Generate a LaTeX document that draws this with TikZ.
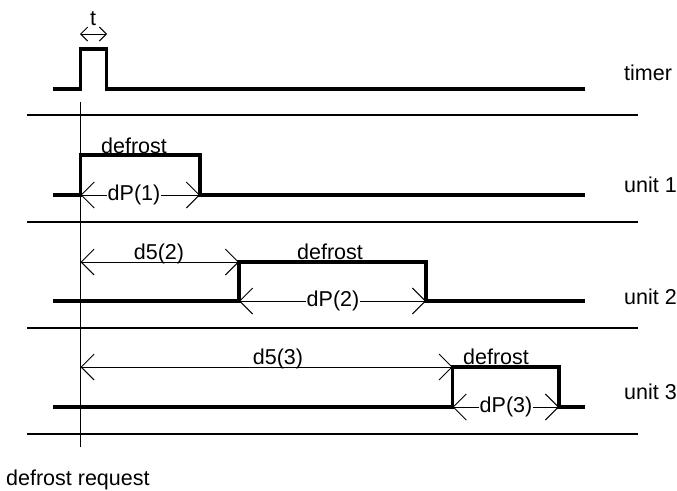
\documentclass[tikz,border=0pt]{standalone}
\usepackage{fontspec}
\setmainfont{Liberation Sans}
\usetikzlibrary{arrows.meta}
\begin{document}
\begin{tikzpicture}[x=1pt,y=-1pt,
  sig/.style={line width=3.5pt, line join=miter},
  sepline/.style={line width=1.3pt},
  dimline/.style={line width=0.9pt, {Straight Barb[length=13pt 0,width=26pt 0]}-{Straight Barb[length=13pt 0,width=26pt 0]}},
  smalldim/.style={line width=1pt, {Straight Barb[length=7pt 0,width=14pt 0]}-{Straight Barb[length=7pt 0,width=14pt 0]}},
  lbl/.style={font=\fontsize{21.5}{25}\selectfont, inner sep=0pt},
  dimlbl/.style={lbl, fill=white, inner xsep=1pt, inner ysep=0pt},
  ]
\useasboundingbox (0,0) rectangle (677,490);

% separators
\foreach \y/\n in {115/a,222/b,328/c,434/d}
  \draw[sepline] (27,\y) coordinate (s\n l) -- (638,\y) coordinate (s\n r);

% request line
\coordinate (rq1) at (80.5,102);
\coordinate (rq2) at (80.5,447);
\draw[sepline] (rq1) -- (rq2);

% timer
\draw[sig] (53,89) -- (80.7,89) -- (80.7,49) -- (106.7,49) -- (106.7,89) -- (585,89);
\coordinate (t1) at (80,34);
\coordinate (t2) at (107,34);
\draw[smalldim] (t1) -- (t2);
\node[lbl, anchor=base] (tl) at (93,25) {t};
\node[lbl, anchor=base west] (timer) at (624,80.5) {timer};

% unit 1
\draw[sig] (53,195) -- (80.7,195) -- (80.7,155) -- (200,155) -- (200,195) -- (585,195);
\node[lbl, anchor=base] (df1) at (134,153) {defrost};
\coordinate (p1a) at (80.7,195);
\coordinate (p1b) at (200,195);
\draw[dimline] (p1a) -- (p1b);
\node[dimlbl] (dp1) at (134,195) {dP(1)};
\node[lbl, anchor=base west] (u1) at (624,192.5) {unit 1};

% unit 2
\draw[sig] (53,301) -- (239,301) -- (239,262) -- (426,262) -- (426,301) -- (585,301);
\coordinate (d2a) at (80.5,262);
\coordinate (d2b) at (239,262);
\draw[dimline] (d2a) -- (d2b);
\node[lbl, anchor=base] (d52) at (159,259) {d5(2)};
\node[lbl, anchor=base] (df2) at (330,259) {defrost};
\coordinate (p2a) at (239,301);
\coordinate (p2b) at (426,301);
\draw[dimline] (p2a) -- (p2b);
\node[dimlbl] (dp2) at (333,301) {dP(2)};
\node[lbl, anchor=base west] (u2) at (624,304) {unit 2};

% unit 3
\draw[sig] (53,407) -- (452.7,407) -- (452.7,367) -- (559,367) -- (559,407) -- (585,407);
\coordinate (d3a) at (80.5,367);
\coordinate (d3b) at (452.7,367);
\draw[dimline] (d3a) -- (d3b);
\node[lbl, anchor=base] (d53) at (278,364) {d5(3)};
\node[lbl, anchor=base] (df3) at (496,364) {defrost};
\coordinate (p3a) at (452.7,407);
\coordinate (p3b) at (559,407);
\draw[dimline] (p3a) -- (p3b);
\node[dimlbl] (dp3) at (506,407) {dP(3)};
\node[lbl, anchor=base west] (u3) at (624,399.5) {unit 3};

\node[lbl, anchor=base west] (req) at (6,485) {defrost request};
\end{tikzpicture}
\end{document}
